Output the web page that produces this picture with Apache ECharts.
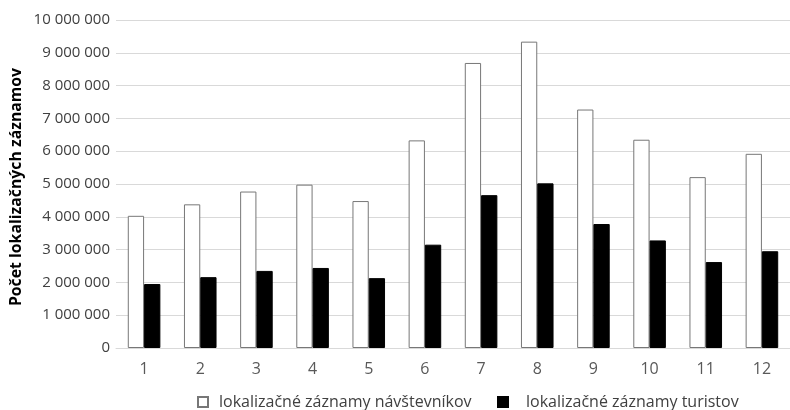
<!DOCTYPE html>
<html><head><meta charset="utf-8">
<script src="https://cdn.jsdelivr.net/npm/echarts@6/dist/echarts.min.js"></script>
<style>html,body{margin:0;padding:0;background:#fff}#c{width:790px;height:410px}</style>
</head><body><div id="c"></div>
<script>
const categories = ['1','2','3','4','5','6','7','8','9','10','11','12'];
const visitors = [4030000,4380000,4770000,4980000,4480000,6330000,8690000,9340000,7270000,6350000,5210000,5920000];
const tourists = [1950000,2160000,2350000,2440000,2130000,3150000,4660000,5020000,3780000,3280000,2620000,2950000];
const nameVisitors = 'lokalizačné záznamy návštevníkov';
const nameTourists = 'lokalizačné záznamy turistov';
const yAxisName = 'Počet lokalizačných záznamov';

const font = '"Open Sans", "Noto Sans", sans-serif';
function fmt(v){ return String(v).replace(/\B(?=(\d{3})+(?!\d))/g, ' '); }

const chart = echarts.init(document.getElementById('c'), null, {renderer:'canvas'});
chart.setOption({
  animation:false,
  backgroundColor:'#fff',
  grid:{left:116, top:20, width:681, height:328, containLabel:false},
  graphic:[{
    type:'text', x:16, y:187, rotation:Math.PI/2,
    style:{text:yAxisName, fontFamily:font, fontSize:15.8, fontWeight:'bold', fill:'#000',
      align:'center', verticalAlign:'middle'}
  }],
  legend:[
    {data:[nameVisitors], left:197, top:394, padding:0, itemWidth:10, itemHeight:10, icon:'rect',
     textStyle:{fontFamily:font, fontSize:16, color:'#404040', padding:[0,0,0,6]}},
    {data:[nameTourists], left:497, top:394, padding:0, itemWidth:10, itemHeight:10, icon:'rect',
     textStyle:{fontFamily:font, fontSize:16, color:'#404040', padding:[0,0,0,13]}}
  ],
  xAxis:{type:'category', data:categories,
    axisLine:{lineStyle:{color:'#d9d9d9'}}, axisTick:{show:false},
    axisLabel:{fontFamily:font, fontSize:16, color:'#595959', margin:13}},
  yAxis:{type:'value', min:0, max:10000000, interval:1000000,
    axisLine:{show:false}, axisTick:{show:false},
    splitLine:{lineStyle:{color:'#d9d9d9'}},
    axisLabel:{fontFamily:font, fontSize:15, color:'#404040', margin:6, formatter:fmt}},
  series:[
    {name:nameVisitors, type:'bar', data:visitors, barWidth:'29%', barGap:'0%',
     itemStyle:{color:'#fff', borderColor:'#777', borderWidth:1}},
    {name:nameTourists, type:'bar', data:tourists, barWidth:'29%',
     itemStyle:{color:'#000', borderColor:'#000', borderWidth:1}}
  ]
});
</script></body></html>
